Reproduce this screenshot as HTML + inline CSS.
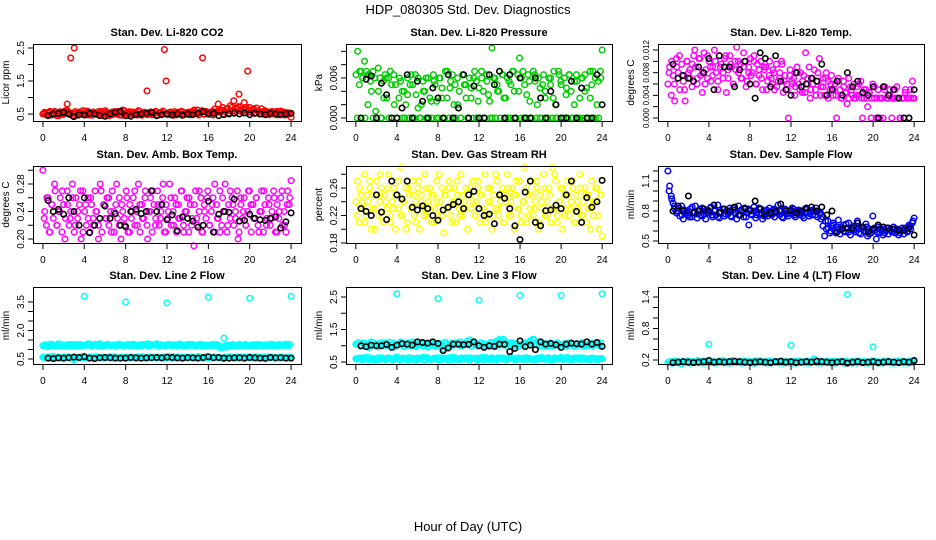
<!DOCTYPE html>
<html><head><meta charset="utf-8"><style>
body{margin:0;background:#fff}
svg{display:block;font-family:"Liberation Sans",sans-serif}
</style></head><body>
<svg id="chart" width="936" height="540" viewBox="0 0 936 540" xmlns="http://www.w3.org/2000/svg">
<rect width="936" height="540" fill="#fff"/>
<text x="468" y="14" font-size="13" text-anchor="middle">HDP_080305  Std. Dev. Diagnostics</text>
<text x="468" y="531" font-size="13" text-anchor="middle">Hour of Day (UTC)</text>
</svg>
<script>
const xTicks=[0,4,8,12,16,20,24];
const co2Color=[.50,.55,.48,.52,.58,.47,.53,.56,.50,.45,.57,.52,.49,.60,.80,.55,2.2,.45,2.5,.52,.48,.56,.50,.60,.47,.53,.58,.50,.46,.55,.52,.49,.57,.51,.48,.54,.60,.50,.45,.53,.56,.49,.52,.58,.47,.55,.62,.50,.45,.53,.57,.50,.48,.55,.52,.60,.49,.46,.54,.51,1.2,.50,.56,.48,.53,.58,.47,.52,.55,.50,2.45,1.5,.48,.55,.51,.46,.57,.53,.49,.52,.58,.47,.54,.50,.56,.48,.53,.60,.51,.62,.47,.55,2.2,.50,.58,.53,.49,.55,.47,.52,.57,.80,.55,.62,.50,.58,.66,.53,.60,.70,.90,.57,.65,1.1,.72,.58,.85,.63,1.8,.70,.55,.62,.52,.68,.58,.50,.66,.54,.60,.49,.56,.52,.58,.50,.55,.47,.53,.59,.50,.56,.48,.54,.51,.40];
const co2Color2=[.52,.47,.56,.50,.58,.45,.53,.49,.55,.60,.48,.52,.57,.46,.54,.50,.59,.47,.53,.56,.49,.51,.58,.45,.55,.52,.48,.57,.50,.54,.46,.60,.53,.49,.56,.51,.47,.58,.52,.55,.48,.53,.50,.57,.46,.54,.59,.51,.49,.56,.52,.47,.55,.58,.50,.53,.48,.57,.62,.51,.54,.60,.49,.56,.52,.58,.65,.55,.61,.70,.57,.66,.75,.60,.68,.72,.58,.64,.70,.55,.62,.66,.53,.59,.50,.57,.54,.48,.56,.52,.58,.50,.55,.47,.53,.51];
const co2Black=[.45,.50,.52,.55,.50,.42,.48,.47,.52,.50,.45,.43,.50,.55,.58,.45,.43,.48,.50,.52,.55,.45,.48,.50,.47,.50,.46,.50,.48,.52,.57,.50,.52,.45,.48,.50,.52,.50,.53,.48,.52,.50,.48,.52,.50,.48,.50,.52];
const pressColor=[6.5,10,5,7,6,8.5,7,2,6.5,4,7,6,0,7.5,6,0,5.5,6.5,3,6,7,0,6.5,5,0,3,5.5,0,4,2,6,0,6.5,5,0,3.5,6,0,2,5.5,4,0,6,3,0,6.5,5,2.5,0,6,4.5,0,7,3,0,5.5,6.5,2,0,6,4,0,6.5,5,3,0,6,4.5,0,7,5.5,2.5,0,6,4,0,6.5,3.5,0,10.5,6,0,5,4,0,6.5,3,0,6,5.5,0,7,4,0,6.5,9,0,7,5,0,6.5,2.5,0,7,5.5,0,6,4.5,0,6.5,3,0,6,5,0,7,2,0,6.5,5.5,0,6,3.5,0,6.5,4,0,5.5,6.5,0,3,6,0,6.5,4.5,0,7,5,0,6,2,0,7,10.2];
const pressColor2=[0,7,6,0,6.5,5.5,0,1,4,0,3,6,0,5,2,0,6,4,0,3.5,5,0,6.5,1.5,0,4,6,0,2.5,5.5,0,6,3,0,7,4.5,0,5,2,0,6.5,5,0,3,6,0,4.5,7,0,5.5,2.5,0,6,4,0,6.5,3,0,5,7,0,4,6,0,3.5,5.5,0,6.5,2,0,5,4,0,6,3,0,7,5,0,4.5,6.5,0,2,5.5,0,6,4,0,3,7,0,5.5,6];
const pressBlack=[0,5.8,6.3,0,5.2,3.5,0,0,1.5,6.5,0,5.5,2.5,0,4.5,3,0,6.5,0,1.5,6.5,0,4.8,0,0,6.5,5,7,0,6.5,0,6,0,0,6,3,0,4,2,0,0,5.5,0,4.5,0,0,6.5,2];
const tempColor=[6,9,4,7.5,3,10.5,8,5,9.5,6.5,3,10,8,7,5.5,11,9,6,10.5,7.5,4.5,11.5,8.5,7,10,6.5,9,12,8,5,11,9.5,7,10.5,4.5,8.5,11,9,6,10,12.5,8,9.5,7,11.5,10,6.5,9,10.5,8,11,6,9.5,7.5,10,5,8.5,9,6.5,10,7,8.5,5,9.5,6.5,8,10,4.5,7.5,6,0,8.5,6.5,7,5.5,9,6,8,4.5,7.5,11.5,6,9,5,7,8.5,4,6.5,10.5,5.5,7,4,8,6.5,5,7.5,4,6,0,7,5,3.5,6.5,4.5,2.5,7,5.5,4,6,3.5,5.5,4,6.5,0,3.5,5,2,4.5,0,6,3.5,0,5,3.5,3.5,0,5.5,3.5,3.5,5,0,3.5,3.5,5.5,3.5,0,3.5,3.5,5,3.5,0,3.5,6.5,3.5];
const tempColor2=[8,10,6,9,11,7.5,5,10,8.5,9.5,12,7,10.5,8,6,11,9,7.5,10,6.5,9,8,11,7,9.5,6,8.5,10,7,9,5.5,8,7.5,10,6,8.5,7,9,5,7.5,6,8,5.5,7,9.5,6.5,5,7.5,6,4,8,5,6.5,4.5,7,3.5,6,5,8,4,5.5,7,3.5,6,5,4,6.5,3.5,5.5,4.5,3.5,5,3.5,4,6,3.5,5,3.5,4.5,3.5,5.5,3.5,0,3.5,5,3.5,4,3.5,5,3.5,0,3.5,4.5,3.5,5,3.5];
const tempBlack=[9.5,7,7.5,7,6.5,9,8,10.5,5,11,9,9,5.5,8.5,10,6,3.5,11.5,10.5,5.5,11,6.5,5,4,8,5.5,6,7,6.5,9.5,4,5,6.5,4,8,5.5,6.5,4.5,4,5.5,0,5.5,4,5,3.5,0,0,5];
const ambColor=[.30,.24,.22,.26,.21,.25,.23,.27,.22,.24,.26,.21,.25,.23,.27,.22,.24,.28,.21,.26,.23,.25,.20,.27,.24,.22,.26,.21,.25,.23,.27,.24,.22,.28,.21,.25,.23,.26,.22,.24,.27,.21,.25,.23,.26,.20,.24,.22,.27,.21,.25,.23,.26,.22,.24,.28,.21,.25,.23,.27,.22,.24,.26,.21,.25,.23,.27,.22,.24,.26,.21,.25,.23,.28,.22,.24,.26,.21,.25,.23,.27,.22,.24,.26,.21,.25,.23,.19,.27,.22,.24,.26,.21,.25,.23,.27,.22,.24,.26,.21,.25,.23,.27,.22,.24,.28,.21,.25,.23,.26,.22,.24,.27,.21,.25,.23,.26,.22,.24,.27,.21,.25,.23,.26,.22,.24,.27,.21,.25,.23,.26,.22,.24,.27,.21,.25,.23,.26,.22,.24,.21,.27,.25,.285];
const ambColor2=[.23,.26,.21,.25,.28,.22,.24,.27,.20,.25,.23,.26,.22,.24,.27,.21,.25,.23,.26,.22,.24,.20,.27,.25,.23,.26,.21,.24,.28,.22,.25,.23,.26,.21,.24,.27,.22,.25,.23,.26,.20,.24,.27,.22,.25,.23,.28,.21,.24,.26,.22,.25,.23,.27,.21,.24,.26,.22,.25,.23,.27,.21,.24,.26,.22,.25,.28,.23,.21,.26,.24,.22,.27,.25,.23,.20,.26,.24,.22,.27,.25,.23,.26,.21,.24,.27,.22,.25,.23,.26,.21,.24,.27,.22,.25,.26];
const ambBlack=[.256,.24,.243,.236,.26,.24,.22,.26,.209,.22,.23,.248,.23,.237,.22,.218,.24,.243,.237,.24,.27,.24,.25,.228,.235,.212,.232,.23,.226,.217,.22,.255,.21,.236,.24,.239,.258,.226,.227,.236,.23,.228,.227,.23,.232,.216,.225,.238];
const rhColor=[.24,.27,.21,.25,.23,.28,.22,.24,.26,.20,.25,.23,.27,.22,.24,.26,.21,.25,.23,.28,.22,.24,.26,.20,.25,.23,.29,.22,.24,.26,.21,.25,.23,.27,.22,.24,.26,.20,.25,.23,.28,.22,.24,.26,.21,.25,.23,.27,.22,.24,.26,.195,.25,.23,.27,.22,.24,.26,.21,.25,.23,.28,.22,.24,.26,.20,.25,.23,.27,.22,.24,.26,.21,.25,.23,.28,.22,.24,.26,.20,.25,.23,.27,.22,.24,.26,.21,.25,.28,.22,.24,.26,.20,.25,.23,.27,.22,.24,.29,.21,.25,.23,.27,.22,.24,.26,.20,.25,.23,.28,.22,.24,.26,.21,.29,.23,.27,.22,.24,.26,.20,.25,.23,.27,.22,.24,.26,.21,.25,.23,.28,.22,.24,.26,.21,.25,.23,.27,.22,.24,.26,.20,.25,.19];
const rhColor2=[.22,.26,.24,.21,.25,.27,.23,.20,.25,.28,.22,.24,.26,.21,.23,.25,.27,.22,.24,.20,.26,.23,.25,.21,.27,.24,.22,.26,.23,.25,.21,.24,.28,.22,.25,.23,.26,.21,.24,.27,.22,.25,.23,.20,.26,.24,.22,.27,.25,.23,.21,.26,.24,.22,.28,.23,.25,.21,.24,.26,.22,.25,.27,.23,.21,.24,.26,.22,.25,.23,.27,.21,.24,.26,.22,.25,.23,.28,.21,.24,.26,.22,.25,.23,.27,.21,.24,.26,.22,.25,.23,.20,.24,.26,.22,.25];
const rhBlack=[.23,.226,.22,.25,.225,.214,.27,.25,.244,.27,.232,.228,.234,.23,.22,.213,.228,.232,.236,.24,.23,.25,.255,.23,.22,.222,.208,.25,.245,.23,.205,.185,.254,.27,.21,.205,.227,.228,.235,.23,.25,.27,.226,.21,.246,.232,.24,.271];
const flowColor=[1.2,1.05,.95,.88,.82,.78,.80,.75,.85,.72,.78,.80,.76,.82,.74,.79,.85,.73,.80,.76,.83,.77,.72,.81,.78,.84,.74,.80,.76,.86,.73,.79,.82,.75,.80,.77,.83,.74,.81,.78,.72,.85,.76,.80,.74,.82,.78,.66,.80,.76,.84,.73,.79,.77,.82,.72,.80,.78,.75,.83,.77,.81,.74,.79,.86,.76,.80,.73,.82,.78,.75,.80,.77,.82,.74,.79,.81,.76,.80,.73,.78,.82,.75,.79,.76,.80,.83,.74,.78,.72,.65,.55,.62,.70,.58,.65,.68,.60,.64,.71,.57,.62,.66,.59,.63,.68,.56,.61,.65,.59,.70,.62,.57,.64,.60,.67,.55,.62,.58,.75,.61,.52,.64,.58,.62,.56,.60,.63,.57,.61,.59,.64,.58,.62,.56,.60,.63,.57,.61,.59,.66,.62,.68,.73];
const flowColor2=[1.0,.92,.85,.80,.83,.76,.81,.78,.74,.84,.79,.77,.82,.75,.80,.78,.83,.76,.81,.74,.79,.82,.77,.80,.75,.83,.78,.76,.81,.79,.74,.82,.77,.80,.76,.83,.78,.75,.81,.79,.76,.82,.78,.80,.74,.81,.77,.79,.83,.76,.80,.78,.75,.82,.79,.77,.81,.76,.80,.78,.74,.70,.63,.60,.66,.58,.62,.64,.60,.67,.59,.63,.61,.65,.58,.62,.60,.64,.57,.61,.63,.59,.62,.60,.58,.63,.61,.59,.62,.60,.58,.61,.63,.60,.65,.70];
const flowBlack=[.80,.85,.80,.95,.78,.80,.82,.80,.86,.78,.82,.80,.84,.76,.83,.81,.90,.82,.76,.78,.80,.87,.80,.81,.78,.80,.83,.84,.80,.84,.76,.80,.59,.62,.63,.63,.68,.64,.59,.62,.66,.64,.63,.62,.61,.61,.63,.56];
const line2Upper=[1.20,1.25,1.15,1.28,1.22,1.18,1.30,1.20,1.24,1.17,1.27,1.21,1.19,1.26,1.23,1.18,3.80,1.22,1.28,1.19,1.25,1.21,1.30,1.18,1.24,1.27,1.20,1.22,1.17,1.26,1.23,1.19,3.50,1.25,1.21,1.28,1.18,1.24,1.20,1.27,1.22,1.19,1.26,1.23,1.30,1.18,1.25,1.21,3.45,1.27,1.20,1.24,1.18,1.28,1.22,1.19,1.26,1.21,1.25,1.18,1.23,1.27,1.20,1.24,3.75,1.22,1.19,1.26,1.21,1.10,1.60,1.12,1.20,1.24,1.18,1.22,1.27,1.19,1.23,1.20,3.70,1.25,1.18,1.22,1.26,1.19,1.24,1.21,1.27,1.18,1.23,1.20,1.25,1.22,1.28,1.19,3.80];
const line2Upper2=[1.22,1.18,1.26,1.21,1.24,1.19,1.28,1.23,1.17,1.25,1.20,1.27,1.22,1.18,1.26,1.21,1.24,1.30,1.19,1.23,1.27,1.20,1.25,1.18,1.22,1.26,1.21,1.24,1.19,1.28,1.23,1.20,1.25,1.18,1.27,1.22,1.19,1.26,1.21,1.24,1.30,1.20,1.23,1.27,1.18,1.25,1.22,1.19,1.26,1.21,1.24,1.20,1.28,1.23,1.17,1.25,1.21,1.27,1.22,1.19,1.26,1.20,1.24,1.18,1.23,1.27,1.21,1.25,1.10,1.12,1.20,1.24,1.19,1.26,1.22,1.18,1.25,1.21,1.27,1.20,1.23,1.19,1.26,1.22,1.24,1.18,1.25,1.21,1.28,1.20,1.23,1.26,1.19,1.24,1.22,1.27];
const line2Lower=[.60,.58,.55,.62,.57,.54,.60,.56,.59,.55,.61,.57,.45,.58,.60,.55,.62,.56,.59,.57,.54,.61,.58,.55,.60,.57,.62,.55,.59,.56,.58,.61,.55,.57,.60,.58,.54,.62,.56,.59,.55,.60,.57,.61,.56,.58,.55,.60,.57,.62,.54,.59,.56,.61,.58,.55,.60,.57,.59,.56,.62,.58,.55,.60,.57,.59,.61,.56,.58,.55,.52,.60,.57,.59,.56,.61,.58,.55,.60,.57,.62,.56,.59,.55,.58,.60,.57,.61,.56,.59,.55,.58,.60,.57,.56,.59,.58];
const line2Lower2=[.57,.60,.55,.59,.62,.56,.58,.54,.61,.57,.59,.55,.60,.58,.56,.62,.57,.55,.60,.58,.61,.56,.59,.54,.57,.60,.55,.62,.58,.56,.59,.57,.61,.55,.58,.60,.56,.59,.62,.57,.55,.60,.58,.56,.61,.59,.57,.54,.60,.58,.62,.56,.59,.55,.57,.61,.58,.60,.56,.59,.62,.57,.55,.60,.58,.56,.61,.59,.57,.54,.60,.58,.62,.56,.59,.55,.57,.61,.58,.60,.56,.59,.62,.57,.55,.60,.58,.56,.61,.59,.57,.55,.60,.58,.56,.59];
const line2Black=[.55,.52,.56,.55,.57,.60,.58,.62,.55,.52,.57,.58,.57,.55,.54,.55,.58,.56,.54,.56,.57,.58,.56,.60,.58,.56,.55,.57,.56,.55,.58,.62,.57,.58,.55,.54,.56,.57,.55,.58,.56,.55,.53,.58,.56,.57,.55,.55];
const line3Upper=[1.05,1.10,.98,1.08,1.02,.95,1.12,1.00,1.06,.97,1.09,1.03,1.00,1.11,1.04,.96,2.60,1.03,1.10,.98,1.07,1.01,1.12,.99,1.05,1.09,1.00,1.04,.96,1.08,1.03,.98,2.45,1.06,.90,1.10,.97,1.05,1.01,1.09,1.03,.99,1.08,1.04,1.12,.98,1.06,1.02,2.40,1.09,1.00,1.05,.97,1.10,1.03,1.15,1.20,1.02,1.07,.98,1.04,1.09,1.00,1.05,2.55,1.03,.99,1.10,1.15,1.20,1.05,1.12,1.00,1.06,.98,1.04,1.09,1.00,1.04,1.01,2.55,1.06,.98,1.03,1.08,.99,1.05,1.02,1.09,.98,1.04,1.01,1.07,1.03,1.10,1.00,2.60];
const line3Upper2=[1.04,1.00,1.08,1.02,1.06,.98,1.10,1.03,.97,1.07,1.01,1.09,1.04,.99,1.08,1.02,1.05,1.12,.98,1.03,1.09,1.00,1.06,.97,1.04,1.08,1.01,1.05,.99,1.10,1.03,1.00,1.07,.96,1.09,1.04,.99,1.08,1.02,1.06,1.12,1.01,1.04,1.15,1.18,1.07,1.03,.99,1.08,1.02,1.05,1.01,1.10,1.04,.97,1.07,1.15,1.20,1.12,1.05,1.09,1.01,1.06,.98,1.04,1.09,1.02,1.06,1.12,1.18,1.05,1.08,1.00,1.07,1.03,.99,1.06,1.02,1.09,1.01,1.04,1.00,1.08,1.03,1.05,.98,1.06,1.02,1.10,1.01,1.04,1.07,1.00,1.05,1.03,1.09];
const line3Lower=[.60,.62,.58,.63,.59,.57,.62,.58,.61,.57,.63,.59,.60,.62,.57,.60,.65,.58,.61,.59,.56,.63,.60,.57,.62,.59,.64,.57,.61,.58,.60,.63,.57,.59,.62,.60,.56,.64,.58,.61,.57,.62,.59,.63,.58,.60,.50,.62,.59,.64,.56,.61,.58,.63,.60,.57,.62,.59,.61,.58,.64,.60,.57,.62,.59,.61,.63,.58,.60,.57,.58,.62,.59,.61,.58,.63,.60,.57,.62,.59,.64,.58,.61,.57,.60,.62,.59,.63,.58,.61,.57,.60,.62,.59,.58,.61,.60];
const line3Lower2=[.59,.62,.57,.61,.64,.58,.60,.56,.63,.59,.61,.57,.62,.60,.58,.64,.59,.57,.62,.60,.63,.58,.61,.56,.59,.62,.57,.64,.60,.58,.61,.59,.63,.57,.60,.62,.58,.61,.64,.59,.57,.62,.60,.58,.63,.61,.59,.56,.62,.60,.64,.58,.61,.57,.59,.63,.60,.62,.58,.61,.64,.59,.57,.62,.60,.58,.63,.61,.59,.56,.62,.60,.64,.58,.61,.57,.59,.63,.60,.62,.58,.61,.64,.59,.57,.62,.60,.58,.63,.61,.59,.57,.62,.60,.58,.61];
const line3Black=[1.0,.97,1.02,1.0,1.0,1.04,.95,1.02,1.06,1.05,1.02,1.12,1.1,1.08,1.12,1.07,.85,.93,1.05,1.05,1.03,1.04,1.12,1.0,.95,1.0,.98,1.05,1.04,.82,.92,1.15,.97,1.02,.88,1.12,1.05,1.07,1.03,.95,1.05,1.08,1.06,1.05,1.12,1.05,1.1,.98];
const line4Color=[.15,.17,.14,.18,.16,.13,.17,.15,.18,.14,.16,.17,.15,.18,.14,.16,.50,.15,.17,.14,.18,.16,.15,.17,.14,.19,.16,.15,.17,.14,.16,.18,.15,.17,.14,.16,.18,.15,.17,.16,.14,.18,.15,.17,.16,.14,.17,.15,.48,.16,.14,.18,.15,.17,.16,.14,.18,.22,.15,.17,.14,.16,.18,.15,.17,.14,.16,.18,.15,.17,1.45,.16,.14,.18,.15,.17,.16,.14,.16,.17,.45,.18,.14,.16,.17,.15,.18,.14,.16,.17,.15,.18,.14,.16,.17,.15,.17];
const line4Color2=[.16,.14,.18,.15,.17,.13,.16,.18,.14,.17,.15,.19,.16,.14,.17,.15,.18,.16,.14,.17,.15,.19,.16,.14,.18,.15,.17,.16,.14,.18,.15,.17,.16,.14,.19,.15,.17,.16,.14,.18,.15,.17,.16,.14,.18,.15,.17,.16,.14,.18,.15,.17,.16,.14,.18,.15,.17,.16,.14,.18,.15,.17,.16,.14,.18,.15,.17,.16,.14,.18,.15,.17,.16,.14,.18,.15,.17,.16,.14,.18,.15,.17,.16,.14,.18,.15,.17,.16,.14,.18,.15,.17,.16,.14,.18,.16];
const line4Black=[.15,.16,.17,.16,.15,.16,.17,.19,.16,.17,.16,.17,.18,.17,.16,.15,.16,.17,.16,.15,.17,.18,.16,.17,.15,.16,.17,.16,.18,.17,.16,.15,.16,.17,.14,.16,.17,.15,.16,.17,.15,.16,.17,.16,.15,.17,.16,.19];

const NS='http://www.w3.org/2000/svg';
const svg=document.getElementById('chart');
function mk(tag,attrs,parent){const e=document.createElementNS(NS,tag);for(const k in attrs)e.setAttribute(k,attrs[k]);(parent||svg).appendChild(e);return e;}
const cols=[[33,301],[346,612],[658,924]];
const rows=[[44,121],[166,243],[287,364]];
const panels=[
 {key:'co2',title:'Stan. Dev. Li-820 CO2',yl:'Licor ppm',c:0,r:0,v0:0.5,p0:114,v1:2.5,p1:48,ticks:[0.5,1,1.5,2,2.5],labels:['0.5','1.5','2.5'],series:[[co2Color,'#ff0000'],[co2Color2,'#ff0000']],black:co2Black},
 {key:'pressure',title:'Stan. Dev. Li-820 Pressure',yl:'kPa',c:1,r:0,v0:0,p0:118,v1:6,p1:78,ticks:[0,2,4,6,8,10],labels:['0.000','0.006'],lv:[0,6],series:[[pressColor,'#00cd00'],[pressColor2,'#00cd00']],black:pressBlack},
 {key:'temp',title:'Stan. Dev. Li-820 Temp.',yl:'degrees C',c:2,r:0,v0:0,p0:118,v1:12,p1:50,ticks:[0,2,4,6,8,10,12],labels:['0.000','0.004','0.008','0.012'],lv:[0,4,8,12],fs:8,series:[[tempColor,'#ff00ff'],[tempColor2,'#ff00ff']],black:tempBlack},
 {key:'amb',title:'Stan. Dev. Amb. Box Temp.',yl:'degrees C',c:0,r:1,v0:0.20,p0:239,v1:0.28,p1:184,ticks:[0.20,0.22,0.24,0.26,0.28,0.30],labels:['0.20','0.24','0.28'],series:[[ambColor,'#ff00ff'],[ambColor2,'#ff00ff']],black:ambBlack},
 {key:'rh',title:'Stan. Dev. Gas Stream RH',yl:'percent',c:1,r:1,v0:0.18,p0:243,v1:0.26,p1:188,ticks:[0.18,0.20,0.22,0.24,0.26,0.28],labels:['0.18','0.22','0.26'],series:[[rhColor,'#ffff00'],[rhColor2,'#ffff00']],black:rhBlack},
 {key:'flow',title:'Stan. Dev. Sample Flow',yl:'ml/min',c:2,r:1,v0:0.5,p0:241,v1:1.1,p1:181,ticks:[0.5,0.6,0.7,0.8,0.9,1.0,1.1,1.2],labels:['0.5','0.8','1.1'],series:[[flowColor,'#0000ff'],[flowColor2,'#0000ff']],black:flowBlack},
 {key:'line2',title:'Stan. Dev. Line 2 Flow',yl:'ml/min',c:0,r:2,v0:0.5,p0:359,v1:3.5,p1:302,ticks:[0.5,1,1.5,2,2.5,3,3.5],labels:['0.5','2.0','3.5'],series:[[line2Upper,'#00ffff'],[line2Upper2,'#00ffff'],[line2Lower,'#00ffff'],[line2Lower2,'#00ffff']],black:line2Black},
 {key:'line3',title:'Stan. Dev. Line 3 Flow',yl:'ml/min',c:1,r:2,v0:0.5,p0:362,v1:2.5,p1:297,ticks:[0.5,1,1.5,2,2.5],labels:['0.5','1.5','2.5'],series:[[line3Upper,'#00ffff'],[line3Upper2,'#00ffff'],[line3Lower,'#00ffff'],[line3Lower2,'#00ffff']],black:line3Black},
 {key:'line4',title:'Stan. Dev. Line 4 (LT) Flow',yl:'ml/min',c:2,r:2,v0:0.2,p0:360,v1:1.4,p1:297,ticks:[0.2,0.4,0.6,0.8,1.0,1.2,1.4],labels:['0.2','0.8','1.4'],series:[[line4Color,'#00ffff'],[line4Color2,'#00ffff']],black:line4Black}
];
panels.forEach(P=>{
 const [L,R]=cols[P.c],[T,B]=rows[P.r];
 const x0=L+(R-L)*0.04/1.08, x1=R-(R-L)*0.04/1.08;
 const xs=h=>x0+(x1-x0)*h/24;
 const ys=v=>P.p0+(v-P.v0)*(P.p1-P.p0)/(P.v1-P.v0);
 const g=mk('g',{});
 
 
 const t=mk('text',{x:(L+R)/2,y:T-8,'font-size':11,'font-weight':'bold','text-anchor':'middle'},g);
 
 
 t.textContent=P.title;
 const yl=mk('text',{x:0,y:0,'font-size':10,'text-anchor':'middle',transform:`translate(${L-24},${(T+B)/2}) rotate(-90)`},g);
 
 
 yl.textContent=P.yl;
 const marks=mk('g',{},g);
 
 
 P.series.forEach(([arr,col],si)=>{
  const off=si%2===1?0.5:0;
  arr.forEach((v,i)=>{
   const h=off?24*(i+off)/arr.length:24*i/(arr.length-1);
   const c=mk('circle',{cx:xs(h).toFixed(1),cy:ys(v).toFixed(1),r:2.8,fill:'none',stroke:col,'stroke-width':1.5},marks);
   
   
  });
 });
 P.black.forEach((v,i)=>{
  const c=mk('circle',{cx:xs(24*(i+1)/P.black.length).toFixed(1),cy:ys(v).toFixed(1),r:2.7,fill:'none',stroke:'#000','stroke-width':1.6},marks);
  
  
 });
 const box=mk('rect',{x:L+0.5,y:T+0.5,width:R-L,height:B-T,fill:'none',stroke:'#000','stroke-width':1},g);
 
 
 xTicks.forEach(h=>{
  const x=xs(h);
  mk('line',{x1:x,x2:x,y1:B+1,y2:B+6,stroke:'#000','stroke-width':1},g);
  const tl=mk('text',{x:x,y:B+20,'font-size':10,'text-anchor':'middle'},g);
  
  
  tl.textContent=h;
 });
 P.ticks.forEach(v=>{
  const y=ys(v);
  mk('line',{x1:L-5,x2:L,y1:y,y2:y,stroke:'#000','stroke-width':1},g);
 });
 const lv=P.lv||P.labels.map(Number);
 P.labels.forEach((s,i)=>{
  const y=ys(lv[i]);
  const tl=mk('text',{x:0,y:0,'font-size':P.fs||10,'text-anchor':'middle',transform:`translate(${L-9},${y}) rotate(-90)`},g);
  
  
  tl.textContent=s;
 });
});
</script>
</body></html>
